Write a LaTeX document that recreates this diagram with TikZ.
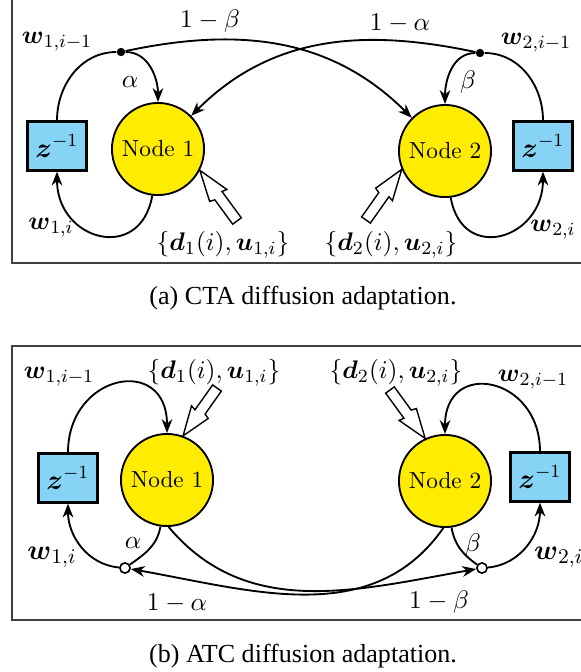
\documentclass[tikz,border=0pt]{standalone}
\usepackage{amsmath,amssymb}
\usepackage{fontspec}
\newfontfamily\capfont{Liberation Serif}
\usetikzlibrary{arrows.meta,calc}

\definecolor{nodeyellow}{RGB}{255,236,0}
\definecolor{delayblue}{RGB}{135,211,245}

\tikzset{
  agent/.style={circle, draw, line width=0.8pt, fill=nodeyellow, minimum size=39.6pt, inner sep=0pt},
  delay/.style={rectangle, draw, line width=1pt, fill=delayblue, minimum width=25.4pt, minimum height=21pt, inner sep=0pt, font=\large},
  link/.style={line width=0.8pt, -{Stealth[length=6pt,width=4.6pt]}},
  plain/.style={line width=0.8pt},
  tap/.style={circle, fill, inner sep=0pt, minimum size=3.6pt},
  otap/.style={circle, draw, fill=white, line width=0.7pt, inner sep=0pt, minimum size=4.4pt},
  feed/.style={draw, fill=white, line width=0.6pt, line join=miter},
  frame/.style={draw=black!75, line width=0.5pt},
  lab/.style={font=\fontsize{11}{13}\selectfont},
  biglab/.style={font=\fontsize{12.5}{15}\selectfont},
  caption/.style={font=\capfont\fontsize{11.2}{13}\selectfont}
}

% hollow input arrow: #1 tip, #2 tail
\newcommand{\feedarrow}[2]{%
  \draw[feed] (#1)
    -- ($($(#1)!0.50!(#2)$)!4.5pt!90:(#2)$)
    -- ($($(#1)!0.48!(#2)$)!2.3pt!90:(#2)$)
    -- ($(#2)!2.3pt!-90:(#1)$)
    -- ($(#2)!2.3pt!90:(#1)$)
    -- ($($(#1)!0.52!(#2)$)!2.3pt!-90:(#2)$)
    -- ($($(#1)!0.49!(#2)$)!4.5pt!-90:(#2)$)
    -- cycle;}

\begin{document}
\begin{tikzpicture}[x=0.43pt, y=-0.43pt]
  \useasboundingbox (0,0) rectangle (581,672);
  \clip (0,0) rectangle (581,672);

  % (a) CTA
  \draw[frame] (12,-5) rectangle (600,263);
  \node[agent] (n1) at (158,149) {Node 1};
  \node[agent] (n2) at (445,151) {Node 2};
  \node[delay] (d1) at (57,146) {$\boldsymbol{z}^{-1}$};
  \node[delay] (d2) at (543,146) {$\boldsymbol{z}^{-1}$};
  \node[tap] (t1) at (121,52) {};
  \node[tap] (t2) at (480,53) {};

  \draw[link] (d1.north) to[out=90,in=180] (t1) to[out=0,in=90] (n1.north);
  \draw[link] (d2.north) to[out=90,in=0] (t2) to[out=180,in=90] (n2.north);
  \draw[link] (t1) to[out=12,in=135] (n2.135);
  \draw[link] (t2) to[out=168,in=45] (n1.45);
  \draw[link] (n1.-97) to[out=-100,in=-90,looseness=1.8] (d1.south);
  \draw[link] (n2.-83) to[out=-80,in=-90,looseness=1.8] (d2.south);

  \node[lab] (w1old) at (57,42) {$\boldsymbol{w}_{1,i-1}$};
  \node[lab] (w2old) at (536,43) {$\boldsymbol{w}_{2,i-1}$};
  \node[lab] (al1) at (130,82) {$\alpha$};
  \node[lab] (be2) at (468,82) {$\beta$};
  \node[lab] (mb1) at (210,21) {$1-\beta$};
  \node[lab] (ma2) at (400,23) {$1-\alpha$};
  \node[lab] (w1new) at (51,228) {$\boldsymbol{w}_{1,i}$};
  \node[lab] (w2new) at (553,230) {$\boldsymbol{w}_{2,i}$};
  \node[lab] (in1) at (223,245) {$\{\boldsymbol{d}_1(i),\boldsymbol{u}_{1,i}\}$};
  \node[lab] (in2) at (391,245) {$\{\boldsymbol{d}_2(i),\boldsymbol{u}_{2,i}\}$};
  \coordinate (f1) at (237,221);
  \coordinate (f2) at (366,220);
  \feedarrow{n1.-27}{f1}
  \feedarrow{n2.-157}{f2}

  \node[caption] (capa) at (303,298) {(a) CTA diffusion adaptation.};

  % (b) ATC
  \draw[frame] (12,346) rectangle (600,620);
  \node[agent] (n3) at (167,480) {Node 1};
  \node[agent] (n4) at (445,481) {Node 2};
  \node[delay] (d3) at (68,478) {$\boldsymbol{z}^{-1}$};
  \node[delay] (d4) at (540,477) {$\boldsymbol{z}^{-1}$};
  \node[otap] (c1) at (125,568) {};
  \node[otap] (c2) at (482,568) {};

  \draw[link] (d3.north) to[out=90,in=90,looseness=2] (n3.north);
  \draw[link] (d4.north) to[out=90,in=90,looseness=2] (n4.north);
  \draw[plain] (n3.-98) to[out=-100,in=35] (c1);
  \draw[link] (c1) to[out=175,in=-90] (d3.south);
  \draw[plain] (n4.-82) to[out=-80,in=145] (c2);
  \draw[link] (c2) to[out=5,in=-90] (d4.south);
  \draw[link] (n3.-88) to[out=-50,in=190] (c2);
  \draw[link] (n4.-92) to[out=-125,in=-10] (c1);

  \node[lab] (w3old) at (59,377) {$\boldsymbol{w}_{1,i-1}$};
  \node[lab] (w4old) at (533,380) {$\boldsymbol{w}_{2,i-1}$};
  \node[lab] (in3) at (214,373) {$\{\boldsymbol{d}_1(i),\boldsymbol{u}_{1,i}\}$};
  \node[lab] (in4) at (396,373) {$\{\boldsymbol{d}_2(i),\boldsymbol{u}_{2,i}\}$};
  \node[biglab] (w3new) at (52,557) {$\boldsymbol{w}_{1,i}$};
  \node[biglab, anchor=west] (w4new) at (526,557) {$\boldsymbol{w}_{2,i}$};
  \node[lab] (al3) at (133,543) {$\alpha$};
  \node[lab] (be4) at (473,545) {$\beta$};
  \node[lab] (ma3) at (177,603) {$1-\alpha$};
  \node[lab] (mb4) at (439,602) {$1-\beta$};
  \coordinate (f3) at (217,388);
  \coordinate (f4) at (390,390);
  \feedarrow{n3.70}{f3}
  \feedarrow{n4.115}{f4}

  \node[caption] (capb) at (303,656) {(b) ATC diffusion adaptation.};
\end{tikzpicture}
\end{document}
